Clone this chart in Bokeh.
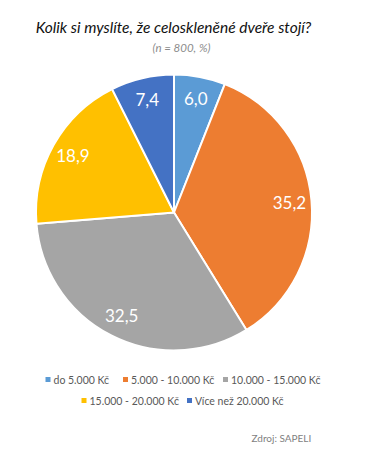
import numpy as np
from bokeh.plotting import figure
from bokeh.models import Range1d, ColumnDataSource
from bokeh.core.properties import value
from bokeh.embed import file_html
from bokeh.resources import INLINE

# ---- data ----
categories = ["do 5.000 Kč", "5.000 - 10.000 Kč", "10.000 - 15.000 Kč",
              "15.000 - 20.000 Kč", "Více než 20.000 Kč"]
shares = [6.0, 35.2, 32.5, 18.9, 7.4]
colors = ["#5B9BD5", "#ED7D31", "#A5A5A5", "#FFC000", "#4472C4"]
title_text = "Kolik si myslíte, že celoskleněné dveře stojí?"
subtitle_text = "(n = 800, %)"
source_text = "Zdroj: SAPELI"

W, H = 351, 445
FONT = "Lato"

def Y(ypix):
    return H - ypix

p = figure(width=W, height=H, output_backend="svg", toolbar_location=None,
           x_range=Range1d(0, W), y_range=Range1d(0, H),
           min_border=0, border_fill_color="white")
p.axis.visible = False
p.grid.visible = False
p.outline_line_color = None

# pie
cx, cy, r = 173.5, Y(212), 138
vals = np.array(shares)
cum = np.cumsum(vals)
before = cum - vals
total = vals.sum()
start = np.pi / 2 - before / total * 2 * np.pi
end = np.pi / 2 - cum / total * 2 * np.pi
src = ColumnDataSource(dict(start=start, end=end, color=colors))
p.wedge(x=cx, y=cy, radius=r, radius_units="screen", start_angle="start",
        end_angle="end", direction="clock", fill_color="color",
        line_color="white", line_width=2, source=src)

# data labels
mid = (start + end) / 2
lf = 0.84
lx = cx + lf * r * np.cos(mid)
ly = cy + lf * r * np.sin(mid)
labels = [f"{v:.1f}".replace(".", ",") for v in shares]
p.text(x=lx, y=ly, text=labels, text_color="white", text_font=value(FONT),
       text_font_size="17px", text_align="center", text_baseline="middle")

# title / subtitle
p.text(x=[173], y=[Y(26)], text=[title_text], text_font=value(FONT),
       text_font_style="italic", text_font_size="15.5px", text_color="#111111",
       text_align="center", text_baseline="middle")
p.text(x=[181], y=[Y(47)], text=[subtitle_text], text_font=value(FONT),
       text_font_style="italic", text_font_size="11.5px", text_color="#8C8C8C",
       text_align="center", text_baseline="middle")

# legend (two rows)
leg_sq_x = [47.5, 125, 225, 83.5, 189]
leg_y = [Y(379), Y(379), Y(379), Y(400), Y(400)]
p.scatter(x=leg_sq_x, y=leg_y, marker="square", size=5, fill_color=colors,
          line_color=None)
p.text(x=[x + 5.5 for x in leg_sq_x], y=leg_y, text=categories,
       text_font=value(FONT), text_font_size="10.5px", text_color="#595959",
       text_align="left", text_baseline="middle")

# source
p.text(x=[251], y=[Y(437)], text=[source_text], text_font=value(FONT),
       text_font_size="10px", text_color="#7F7F7F", text_align="left",
       text_baseline="middle")

open("out.html", "w").write(file_html(p, INLINE))
